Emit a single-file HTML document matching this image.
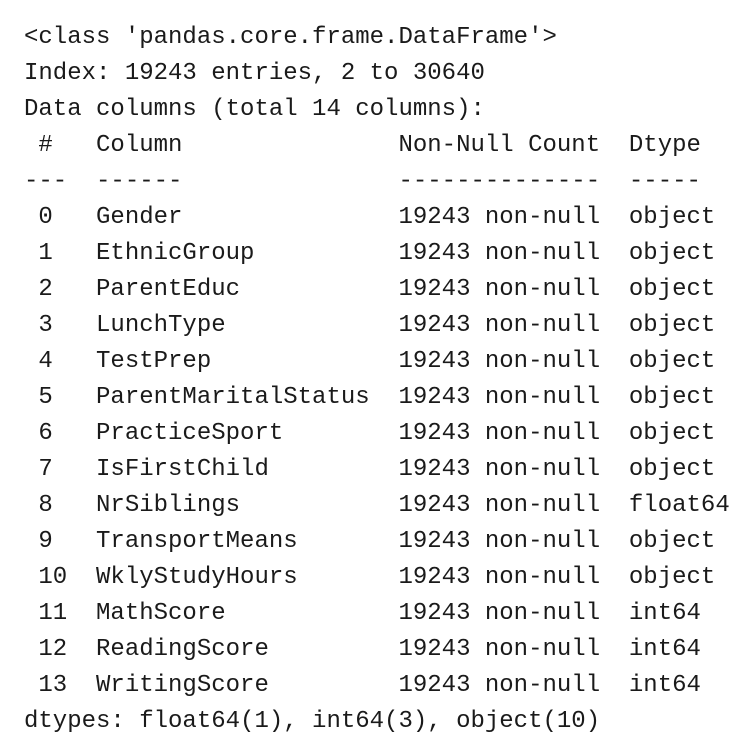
<!DOCTYPE html>
<html><head><meta charset="utf-8"><style>
html,body{margin:0;padding:0;background:#fff;width:746px;height:742px;overflow:hidden}
pre{margin:0;padding:20px 0 0 24px;font-family:"Liberation Mono","DejaVu Sans Mono",monospace;font-size:24px;line-height:36px;color:#1a1a1a}
</style></head><body><pre>&lt;class 'pandas.core.frame.DataFrame'&gt;
Index: 19243 entries, 2 to 30640
Data columns (total 14 columns):
 #   Column               Non-Null Count  Dtype  
---  ------               --------------  -----  
 0   Gender               19243 non-null  object 
 1   EthnicGroup          19243 non-null  object 
 2   ParentEduc           19243 non-null  object 
 3   LunchType            19243 non-null  object 
 4   TestPrep             19243 non-null  object 
 5   ParentMaritalStatus  19243 non-null  object 
 6   PracticeSport        19243 non-null  object 
 7   IsFirstChild         19243 non-null  object 
 8   NrSiblings           19243 non-null  float64
 9   TransportMeans       19243 non-null  object 
 10  WklyStudyHours       19243 non-null  object 
 11  MathScore            19243 non-null  int64  
 12  ReadingScore         19243 non-null  int64  
 13  WritingScore         19243 non-null  int64  
dtypes: float64(1), int64(3), object(10)</pre></body></html>
